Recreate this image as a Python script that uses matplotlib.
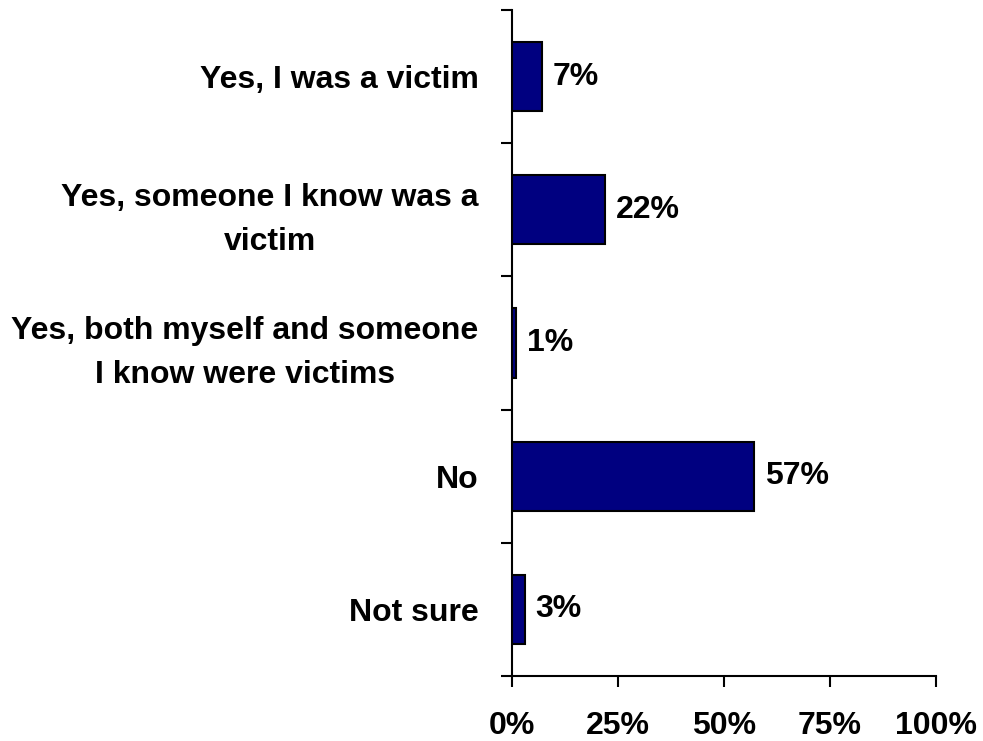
import matplotlib
matplotlib.use("Agg")
import matplotlib.pyplot as plt
from matplotlib.ticker import FixedLocator, NullFormatter

categories = [
    "Yes, I was a victim",
    "Yes, someone I know was a\nvictim",
    "Yes, both myself and someone\nI know were victims",
    "No",
    "Not sure",
]
values = [7, 22, 1, 57, 3]
x_ticks = [0, 25, 50, 75, 100]
x_tick_labels = ["0%", "25%", "50%", "75%", "100%"]

plt.rcParams["font.family"] = ["Liberation Sans", "DejaVu Sans"]
plt.rcParams["font.weight"] = "bold"

fig = plt.figure(figsize=(9.83, 7.41), dpi=100)
ax = fig.add_axes([512 / 983, 1 - 676 / 741, (936 - 512) / 983, (676 - 10) / 741])

pos = list(range(len(categories)))
ax.barh(pos, values, height=0.52, color="#000080", edgecolor="black", linewidth=1.5, zorder=3)

for p, v in zip(pos, values):
    ax.text(v + 2.6, p, f"{v}%", va="center", ha="left", fontsize=23, fontweight="bold")

ax.set_xlim(0, 100)
ax.set_ylim(len(categories) - 0.5, -0.5)

ax.set_xticks(x_ticks)
ax.set_xticklabels(x_tick_labels, fontsize=23, fontweight="bold")

# boundaries between categories carry the tick marks, centers carry the labels
ax.yaxis.set_major_locator(FixedLocator([i - 0.5 for i in range(len(categories) + 1)]))
ax.yaxis.set_major_formatter(NullFormatter())
ax.yaxis.set_minor_locator(FixedLocator(pos))
ax.set_yticklabels(categories, minor=True, fontsize=23, fontweight="bold",
                   multialignment="center", linespacing=1.6)
ax.tick_params(axis="y", which="minor", length=0, pad=24)
ax.tick_params(axis="y", which="major", length=8, width=1.5, direction="out")
ax.tick_params(axis="x", which="major", length=8, width=1.5, direction="out", pad=17)

for s in ["top", "right"]:
    ax.spines[s].set_visible(False)
for s in ["left", "bottom"]:
    ax.spines[s].set_linewidth(1.5)

fig.savefig("out.png", dpi=100)
